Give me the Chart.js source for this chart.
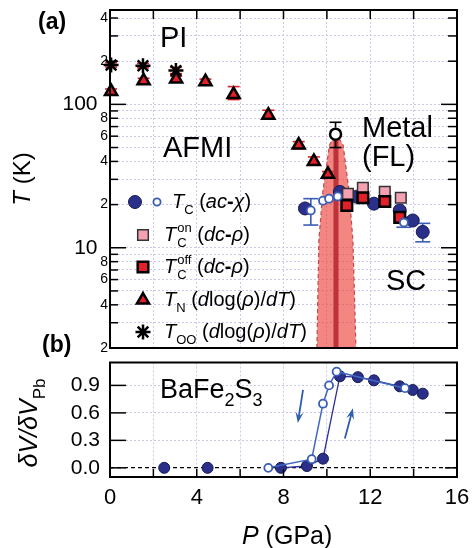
<!DOCTYPE html>
<html>
<head>
<meta charset="utf-8">
<script src="https://cdn.jsdelivr.net/npm/chart.js@4"></script>
<style>
  html, body { margin: 0; padding: 0; background: #fff; }
  #wrap { position: relative; width: 472px; height: 548px; overflow: hidden; background: #fff; }
  canvas { position: absolute; left: 0; }
</style>
</head>
<body>
<div id="wrap">
  <canvas id="phase" width="472" height="358" style="top:0"></canvas>
  <canvas id="volume" width="472" height="192" style="top:356px"></canvas>
</div>
<script>
const FONT = '"Liberation Sans", Arial, Helvetica, sans-serif';
const GRID = '#cbc8ea';

// ---- panel (a): T vs P, log scale ----
const pressureTicks = [0, 2, 4, 6, 8, 10, 12, 14, 16];
const tempTicks = [2, 3, 4, 5, 6, 7, 8, 9, 10, 20, 30, 40, 50, 60, 70, 80, 90, 100, 200, 300, 400];
const tempMajor = [10, 100];
const tempLabelled = [2, 4, 6, 8, 20, 40, 60, 80, 200, 400];

// T_N (dlog(rho)/dT)
const tnP = [0.05, 1.55, 3.05, 4.4, 5.7, 7.3, 8.7, 9.4, 10.05];
const tnT = [123, 146, 150, 144, 117, 84, 52, 40, 32.5];
const tnLo = [118, 140, 144, 138, 108, 79, 49, 38, 31];
const tnHi = [128, 152, 157, 150, 133, 91, 55, 43, 34];

// T_OO
const tooP = [0.05, 1.52, 3.04];
const tooT = [188, 186, 172];
const tooLo = [182, 180, 164];
const tooHi = [195, 193, 181];

// metal (FL) boundary
const flP = [10.4];
const flT = [62];
const flLo = [50];
const flHi = [75];

// shaded transition band (outline) and its centre
const bandP = [9.54, 9.63, 9.82, 10.12, 10.3, 10.55, 10.75, 11.02, 11.2, 11.34];
const bandT = [2, 11.3, 25, 52, 58, 58, 52, 25, 11.3, 2];
const bandMidP = [10.42, 10.42];
const bandMidT = [2, 56];

// Tc (ac-chi), filled and open
const tcAcP = [8.99, 10.6, 11.38, 12.17, 13.36, 13.96, 14.42];
const tcAcT = [18.8, 24.5, 22.7, 20.3, 18.2, 15.5, 12.9];
const tcAcLo = [null, null, null, null, null, null, 11.0];
const tcAcHi = [null, null, null, null, null, null, 14.8];
const tcOpenP = [9.26, 9.82, 10.1, 10.5, 13.55];
const tcOpenT = [18.2, 21.3, 22, 22.8, 15];
const tcOpenLo = [14.4, null, null, null, 13.9];
const tcOpenHi = [22, null, null, null, 16.3];

// Tc on / off (dc-rho)
const tcOnP = [10.97, 11.66, 12.67, 13.41];
const tcOnT = [23.8, 26.2, 24.6, 22.3];
const tcOffP = [10.92, 11.66, 12.67, 13.36];
const tcOffT = [19.7, 22.3, 21, 16.3];

// ---- panel (b): dV/dV_Pb ----
const vTicks = [0, 0.3, 0.6, 0.9];
const upP = [7.88, 9.08, 9.82, 10.6, 11.43, 12.17, 13.36, 13.96, 14.42];
const upV = [0.0, 0.02, 0.1, 1.0, 0.99, 0.955, 0.89, 0.85, 0.81];
const lowP = [2.5, 4.5];
const lowV = [0, 0];
const downP = [13.6, 10.45, 10.1, 9.82, 9.3, 7.3];
const downV = [0.87, 1.05, 0.9, 0.7, 0.095, 0.0];

const arrowDown = [[8.9, 0.85], [8.66, 0.49]];
const arrowUp = [[10.83, 0.32], [11.2, 0.65]];

const STY = {
  tn: { shape: 'triangle', r: 7, fill: '#e3202a', stroke: '#000', w: 2.5 },
  too: { shape: 'star', r: 7.5, fill: '#000', stroke: '#000', w: 2.5 },
  fl: { shape: 'circle', r: 5.5, fill: '#fff', stroke: '#000', w: 2.5 },
  on: { shape: 'rect', r: 7.5, fill: '#f4a2b2', stroke: '#333', w: 1.5 },
  off: { shape: 'rect', r: 7.5, fill: '#e3202a', stroke: '#000', w: 2.5 },
  acFull: { shape: 'circle', r: 6.5, fill: '#2a2f8a', stroke: '#151a55', w: 1 },
  acOpen: { shape: 'circle', r: 4, fill: '#fff', stroke: '#3a5db3', w: 1.8 }
};

const pts = (xs, ys) => xs.map((x, i) => ({ x, y: ys[i] }));

function markers(label, xs, ys, s, extra) {
  return Object.assign({
    type: 'scatter', label, data: pts(xs, ys), clip: false,
    pointStyle: s.shape, pointRadius: s.r, pointHoverRadius: s.r,
    pointBackgroundColor: s.fill, pointBorderColor: s.stroke, pointBorderWidth: s.w
  }, extra || {});
}

function partFont(style, size) {
  if (style === 'i') return `italic ${size}px ${FONT}`;
  if (style === 'b') return `bold ${size}px ${FONT}`;
  return `${size}px ${FONT}`;
}

// parts: [text, style]; style = n | i | b | sub | sup | ss (text = [sub, sup])
function drawRich(ctx, x, y, parts, size, dryRun) {
  let cx = x;
  const small = Math.round(size * 0.66);
  for (const [t, s] of parts) {
    if (s === 'ss') {
      ctx.font = partFont('n', small);
      const w1 = ctx.measureText(t[0]).width, w2 = ctx.measureText(t[1]).width;
      if (!dryRun) {
        ctx.fillText(t[0], cx + 1, y + size * 0.3);
        ctx.fillText(t[1], cx + 1, y - size * 0.45);
      }
      cx += Math.max(w1, w2) + 1;
      continue;
    }
    let dy = 0, fs = size, st = s;
    if (s === 'sub') { fs = small; dy = size * 0.3; st = 'n'; }
    if (s === 'sup') { fs = small; dy = -size * 0.45; st = 'n'; }
    ctx.font = partFont(st, fs);
    if (!dryRun) ctx.fillText(t, cx, y + dy);
    cx += ctx.measureText(t).width;
  }
  return cx - x;
}

function drawRotated(ctx, bx, cy, parts, size) {
  ctx.save();
  ctx.translate(bx, cy);
  ctx.rotate(-Math.PI / 2);
  const w = drawRich(ctx, 0, 0, parts, size, true);
  drawRich(ctx, -w / 2, 0, parts, size);
  ctx.restore();
}

function seg(ctx, x1, y1, x2, y2) {
  ctx.beginPath(); ctx.moveTo(x1, y1); ctx.lineTo(x2, y2); ctx.stroke();
}

function drawFrame(chart, yTicks, yLen, xTicks, xLen, xSide) {
  const { ctx, chartArea: a } = chart;
  const xs = chart.scales.x, ys = chart.scales.y;
  ctx.save();
  ctx.strokeStyle = '#000';
  ctx.lineWidth = 1.5;
  yTicks.forEach(v => {
    const py = ys.getPixelForValue(v);
    const [l, r] = yLen(v);
    seg(ctx, a.left, py, a.left + l, py);
    seg(ctx, a.right - r, py, a.right, py);
  });
  xTicks.forEach(v => {
    const px = xs.getPixelForValue(v);
    if (xSide === 'top') seg(ctx, px, a.top, px, a.top + xLen);
    else seg(ctx, px, a.bottom, px, a.bottom - xLen);
  });
  ctx.lineWidth = 2;
  ctx.strokeRect(a.left, a.top, a.right - a.left, a.bottom - a.top);
  ctx.restore();
}

// error bars: "behind" ones go under the markers, the others on top with a gap
function drawErrors(chart, behind) {
  const { ctx } = chart;
  const ys = chart.scales.y;
  chart.data.datasets.forEach((ds, i) => {
    if (!ds.errLo || !!ds.errBehind !== behind) return;
    const meta = chart.getDatasetMeta(i);
    ctx.save();
    ctx.strokeStyle = ds.errColor;
    ctx.lineWidth = 1.6;
    meta.data.forEach((pt, j) => {
      if (ds.errLo[j] == null) return;
      const yl = ys.getPixelForValue(ds.errLo[j]);
      const yh = ys.getPixelForValue(ds.errHi[j]);
      const gap = behind ? 0 : ds.pointRadius + 1;
      const cw = ds.capW || 6;
      if (yh < pt.y - gap) seg(ctx, pt.x, pt.y - gap, pt.x, yh);
      if (yl > pt.y + gap) seg(ctx, pt.x, pt.y + gap, pt.x, yl);
      seg(ctx, pt.x - cw, yh, pt.x + cw, yh);
      seg(ctx, pt.x - cw, yl, pt.x + cw, yl);
    });
    ctx.restore();
  });
}

const errorBars = {
  id: 'errorBars',
  beforeDatasetsDraw(chart) { drawErrors(chart, true); },
  afterDatasetsDraw(chart) { drawErrors(chart, false); }
};

const legendRows = [
  { y: 202, marks: [[135, STY.acFull], [157, Object.assign({}, STY.acOpen, { r: 3.6 })]], tx: 172,
    parts: [['T', 'i'], ['C', 'sub'], [' (', 'n'], ['ac', 'i'], ['-', 'b'], ['χ', 'i'], [')', 'n']] },
  { y: 235, marks: [[143, STY.on]], tx: 164,
    parts: [['T', 'i'], [['C', 'on'], 'ss'], [' (', 'n'], ['dc', 'i'], ['-', 'b'], ['ρ', 'i'], [')', 'n']] },
  { y: 267, marks: [[143, STY.off]], tx: 164,
    parts: [['T', 'i'], [['C', 'off'], 'ss'], [' (', 'n'], ['dc', 'i'], ['-', 'b'], ['ρ', 'i'], [')', 'n']] },
  { y: 300, marks: [[143, STY.tn]], tx: 164,
    parts: [['T', 'i'], ['N', 'sub'], [' (', 'n'], ['d', 'i'], ['log(', 'n'], ['ρ', 'i'], [')/', 'n'], ['dT', 'i'], [')', 'n']] },
  { y: 332, marks: [[143, STY.too]], tx: 164,
    parts: [['T', 'i'], ['OO', 'sub'], [' (', 'n'], ['d', 'i'], ['log(', 'n'], ['ρ', 'i'], [')/', 'n'], ['dT', 'i'], [')', 'n']] }
];

const phaseDecor = {
  id: 'phaseDecor',
  afterDraw(chart) {
    const { ctx } = chart;
    drawFrame(chart, tempTicks, v => tempMajor.includes(v) ? [16, 16] : [8, 9],
      pressureTicks.slice(1, -1), 9, 'top');
    ctx.save();
    ctx.fillStyle = '#000';
    ctx.textBaseline = 'alphabetic';
    ctx.textAlign = 'left';
    ctx.font = `29px ${FONT}`;
    ctx.fillText('PI', 160, 47);
    ctx.fillText('AFMI', 163, 157);
    ctx.fillText('Metal', 362, 137);
    ctx.fillText('(FL)', 362, 166);
    ctx.fillText('SC', 386, 290);
    ctx.font = `bold 23px ${FONT}`;
    ctx.fillText('(a)', 38, 29);
    ctx.fillText('(b)', 42, 352);

    legendRows.forEach(row => {
      row.marks.forEach(([mx, s]) => {
        ctx.fillStyle = s.fill;
        ctx.strokeStyle = s.stroke;
        ctx.lineWidth = s.w;
        Chart.helpers.drawPoint(ctx, { pointStyle: s.shape, radius: s.r, rotation: 0, borderWidth: s.w }, mx, row.y);
      });
      ctx.fillStyle = '#000';
      drawRich(ctx, row.tx, row.y + 6, row.parts, 20);
    });

    drawRotated(ctx, 30, 179, [['T', 'i'], [' (K)', 'n']], 24);
    ctx.restore();
  }
};

new Chart(document.getElementById('phase'), {
  type: 'scatter',
  data: {
    datasets: [
      markers('Metal (FL)', flP, flT, STY.fl, { order: 0, errLo: flLo, errHi: flHi, errColor: '#000', capW: 6 }),
      markers('Tc ac open', tcOpenP, tcOpenT, STY.acOpen, { order: 1, errLo: tcOpenLo, errHi: tcOpenHi, errColor: '#3a5db3', capW: 7.5, errBehind: true }),
      markers('Tc off', tcOffP, tcOffT, STY.off, { order: 2 }),
      markers('Tc on', tcOnP, tcOnT, STY.on, { order: 3 }),
      markers('Tc ac', tcAcP, tcAcT, STY.acFull, { order: 4, errLo: tcAcLo, errHi: tcAcHi, errColor: '#3a5db3', capW: 7.5, errBehind: true }),
      markers('T_N', tnP, tnT, STY.tn, { order: 5, errLo: tnLo, errHi: tnHi, errColor: '#e3202a', capW: 6, errBehind: true }),
      markers('T_OO', tooP, tooT, STY.too, { order: 6, errLo: tooLo, errHi: tooHi, errColor: '#e3202a', capW: 6, errBehind: true }),
      { type: 'line', label: 'band centre', data: pts(bandMidP, bandMidT), borderColor: '#be323c',
        borderWidth: 5, pointRadius: 0, fill: false, order: 8 },
      { type: 'line', label: 'band', data: pts(bandP, bandT), fill: 'shape', tension: 0,
        backgroundColor: 'rgba(236,60,50,0.62)', borderColor: '#c4454c', borderWidth: 1.2,
        borderDash: [4, 3], pointRadius: 0, order: 9 }
    ]
  },
  options: {
    responsive: false,
    animation: false,
    devicePixelRatio: 1,
    layout: { padding: { left: 0, right: 15, top: 6, bottom: 0 } },
    plugins: { legend: { display: false }, tooltip: { enabled: false } },
    scales: {
      x: {
        type: 'linear', min: 0, max: 16,
        afterBuildTicks: s => { s.ticks = pressureTicks.map(v => ({ value: v })); },
        afterFit: s => { s.height = 8; s.paddingLeft = 0; s.paddingRight = 0; },
        ticks: { display: false },
        grid: { color: GRID, lineWidth: 1, drawTicks: false },
        border: { display: false, dash: [2, 2] }
      },
      y: {
        type: 'logarithmic', min: 2, max: 455,
        afterBuildTicks: s => { s.ticks = tempTicks.map(v => ({ value: v })); },
        afterFit: s => { s.width = 110; s.paddingTop = 0; s.paddingBottom = 0; },
        ticks: {
          autoSkip: false, padding: 2, color: '#000',
          font: c => ({ family: FONT, size: c.tick && tempMajor.includes(c.tick.value) ? 21 : 14 }),
          callback: v => tempMajor.includes(v) ? v + '\u2002' : (tempLabelled.includes(v) ? String(v).charAt(0) : '')
        },
        grid: { color: GRID, lineWidth: 1, drawTicks: false },
        border: { display: false, dash: [2, 2] }
      }
    }
  },
  plugins: [errorBars, phaseDecor]
});

function arrow(ctx, x1, y1, x2, y2, color) {
  const ang = Math.atan2(y2 - y1, x2 - x1), hl = 11, hw = 4;
  const c = Math.cos(ang), s = Math.sin(ang);
  ctx.strokeStyle = color; ctx.fillStyle = color; ctx.lineWidth = 1.8;
  seg(ctx, x1, y1, x2 - c * hl * 0.6, y2 - s * hl * 0.6);
  ctx.beginPath();
  ctx.moveTo(x2, y2);
  ctx.lineTo(x2 - hl * c + hw * s, y2 - hl * s - hw * c);
  ctx.lineTo(x2 - hl * 0.6 * c, y2 - hl * 0.6 * s);
  ctx.lineTo(x2 - hl * c - hw * s, y2 - hl * s + hw * c);
  ctx.closePath();
  ctx.fill();
}

const volumeDecor = {
  id: 'volumeDecor',
  afterDraw(chart) {
    const { ctx } = chart;
    const xs = chart.scales.x, ys = chart.scales.y;
    drawFrame(chart, vTicks, () => [16, 12], pressureTicks.slice(1, -1), 8, 'bottom');
    ctx.save();
    [arrowDown, arrowUp].forEach(([a, b]) => {
      arrow(ctx, xs.getPixelForValue(a[0]), ys.getPixelForValue(a[1]),
        xs.getPixelForValue(b[0]), ys.getPixelForValue(b[1]), '#2b5db0');
    });
    ctx.fillStyle = '#000';
    ctx.textAlign = 'left';
    ctx.textBaseline = 'alphabetic';
    drawRich(ctx, 160, 42, [['BaFe', 'n'], ['2', 'sub'], ['S', 'n'], ['3', 'sub']], 27);
    drawRotated(ctx, 37, 67, [['δV/δV', 'i'], ['Pb', 'sub']], 25);
    drawRich(ctx, 242, 188, [['P', 'i'], [' (GPa)', 'n']], 25);
    ctx.restore();
  }
};

const fullDot = { pointStyle: 'circle', pointRadius: 5.5, pointHoverRadius: 5.5,
  pointBackgroundColor: '#2a2f8a', pointBorderColor: '#141a50', pointBorderWidth: 1 };

new Chart(document.getElementById('volume'), {
  type: 'scatter',
  data: {
    datasets: [
      Object.assign({ label: 'decreasing P', data: pts(downP, downV), showLine: true, clip: false,
        borderColor: '#4067c2', borderWidth: 1.5, pointStyle: 'circle', pointRadius: 4, pointHoverRadius: 4,
        pointBackgroundColor: '#fff', pointBorderColor: '#3a5db3', pointBorderWidth: 1.8, order: 1 }),
      Object.assign({ label: 'increasing P', data: pts(upP, upV), showLine: true, clip: false,
        borderColor: '#2d2f9a', borderWidth: 1.3, order: 2 }, fullDot),
      Object.assign({ label: 'low P', data: pts(lowP, lowV), showLine: false, clip: false, order: 3 }, fullDot)
    ]
  },
  options: {
    responsive: false,
    animation: false,
    devicePixelRatio: 1,
    layout: { padding: { left: 0, right: 15, top: 4, bottom: 0 } },
    plugins: { legend: { display: false }, tooltip: { enabled: false } },
    scales: {
      x: {
        type: 'linear', min: 0, max: 16,
        afterBuildTicks: s => { s.ticks = pressureTicks.map(v => ({ value: v })); },
        afterFit: s => { s.height = 71; s.paddingLeft = 0; s.paddingRight = 0; },
        ticks: { autoSkip: false, maxRotation: 0, padding: 8, color: '#000', font: { family: FONT, size: 22 },
          callback: v => v % 4 === 0 ? String(v) : '' },
        grid: { color: GRID, lineWidth: 1, drawTicks: false },
        border: { display: false, dash: [2, 2] }
      },
      y: {
        type: 'linear', min: -0.1, max: 1.15,
        afterBuildTicks: s => { s.ticks = vTicks.map(v => ({ value: v })); },
        afterFit: s => { s.width = 110; s.paddingTop = 0; s.paddingBottom = 0; },
        ticks: { autoSkip: false, padding: 10, color: '#000', font: { family: FONT, size: 21 },
          callback: v => v.toFixed(1) },
        grid: {
          color: c => c.tick && c.tick.value === 0 ? '#000' : GRID,
          lineWidth: c => c.tick && c.tick.value === 0 ? 1.3 : 1,
          drawTicks: false
        },
        border: { display: false, dash: c => c.tick && c.tick.value === 0 ? [4, 3] : [2, 2] }
      }
    }
  },
  plugins: [volumeDecor]
});
</script>
</body>
</html>
